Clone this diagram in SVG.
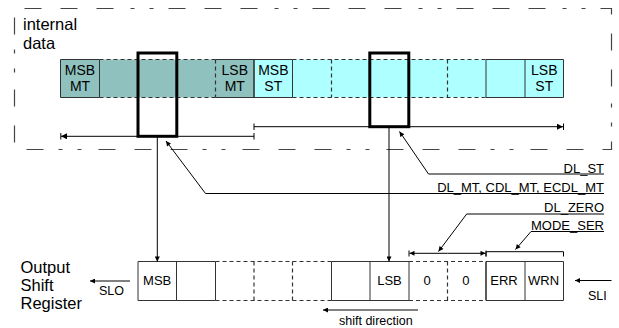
<svg xmlns="http://www.w3.org/2000/svg" width="619" height="328" viewBox="0 0 619 328">
<style>
text{font-family:"Liberation Sans",Arial,sans-serif;fill:#000}
.big{font-size:16.5px}
.cell{font-size:14px;text-anchor:middle}
.reg{font-size:13px;text-anchor:middle}
.lbl{font-size:13px;text-anchor:end}
.sm{font-size:12.5px}
.ln{stroke:#000;stroke-width:1;fill:none}
.bd{stroke:#333;stroke-width:1;fill:none}
.dsh{stroke:#333;stroke-width:1.2;fill:none;stroke-dasharray:4,3}
.thick{stroke:#000;stroke-width:3;fill:none}
</style>
<defs>
<marker id="ah" viewBox="0 0 10 10" refX="10" refY="5" markerWidth="7" markerHeight="5" markerUnits="userSpaceOnUse" orient="auto"><path d="M0,0 L10,5 L0,10 z" fill="#000"/></marker>
<marker id="ahb" viewBox="0 0 10 10" refX="10" refY="5" markerWidth="10" markerHeight="6" markerUnits="userSpaceOnUse" orient="auto"><path d="M0,0 L10,5 L0,10 z" fill="#000"/></marker>
</defs>

<g id="boundary">
<rect x="14.5" y="8.5" width="597" height="141" fill="none" stroke="#444" stroke-width="1.2" stroke-dasharray="17,19,17,19,17,17,4,15,4,15" stroke-dashoffset="-10"/>
<text class="big" x="23" y="29.5">internal</text>
<text class="big" x="23" y="48.5">data</text>
</g>

<g id="internal-data">
<rect x="60.5" y="59.5" width="193.5" height="38" fill="#8fc2bf"/>
<rect x="254" y="59.5" width="309.5" height="38" fill="#aeffff"/>
<path class="bd" d="M60.5,59.5H99.5M60.5,97.5H99.5M215.5,59.5H292.5M215.5,97.5H292.5M486,59.5H563.5M486,97.5H563.5"/>
<path class="dsh" d="M99.5,59.5H215.5M99.5,97.5H215.5M292.5,59.5H486M292.5,97.5H486"/>
<path class="bd" d="M60.5,59.5V97.5M99.5,59.5V97.5M292.5,59.5V97.5M486,59.5V97.5M525,59.5V97.5M563.5,59.5V97.5"/>
<path stroke="#333" stroke-width="1.6" d="M254,59.5V97.5"/>
<path class="dsh" d="M215.5,59.5V97.5M331.5,59.5V97.5M447.5,59.5V97.5"/>
<text class="cell" x="80" y="75">MSB</text>
<text class="cell" x="80" y="91">MT</text>
<text class="cell" x="234.8" y="75">LSB</text>
<text class="cell" x="234.8" y="91">MT</text>
<text class="cell" x="273.3" y="75">MSB</text>
<text class="cell" x="273.3" y="91">ST</text>
<text class="cell" x="544.3" y="75">LSB</text>
<text class="cell" x="544.3" y="91">ST</text>
</g>

<g id="window-mt">
<rect class="thick" x="138" y="53" width="38.8" height="83.3"/>
</g>
<g id="window-st">
<rect class="thick" x="369.8" y="53" width="39" height="73.7"/>
</g>

<g id="register">
<path class="bd" d="M138,261.5H215.5M138,300.5H215.5M331.5,261.5H409M331.5,300.5H409M486,261.5H563.5M486,300.5H563.5"/>
<path class="dsh" d="M215.5,261.5H331.5M215.5,300.5H331.5M409,261.5H486M409,300.5H486"/>
<path class="bd" d="M138,261.5V300.5M176.5,261.5V300.5M215.5,261.5V300.5M331.5,261.5V300.5M370,261.5V300.5M409,261.5V300.5M525,261.5V300.5M563.5,261.5V300.5"/>
<path stroke="#333" stroke-width="1.6" d="M486,261.5V300.5"/>
<path class="dsh" d="M254,261.5V300.5M292.5,261.5V300.5M447.5,261.5V300.5"/>
<text class="reg" x="157.2" y="284.5">MSB</text>
<text class="reg" x="389.5" y="284.5">LSB</text>
<text class="reg" x="427" y="284.5">0</text>
<text class="reg" x="465.8" y="284.5">0</text>
<text class="reg" x="504" y="284.5">ERR</text>
<text class="reg" x="543.5" y="284.5">WRN</text>
<text class="big" x="20.5" y="272.5">Output</text>
<text class="big" x="20.5" y="290.5">Shift</text>
<text class="big" x="20.5" y="308.5">Register</text>
<text class="sm" x="99" y="294.5">SLO</text>
<text class="sm" x="588" y="299.5">SLI</text>
<text class="sm" x="339" y="324.5">shift direction</text>
</g>

<g id="labels">
<text class="lbl" x="604" y="172.5">DL_ST</text>
<text class="lbl" x="604" y="191.5">DL_MT, CDL_MT, ECDL_MT</text>
<text class="lbl" x="604" y="212">DL_ZERO</text>
<text class="lbl" x="604" y="230">MODE_SER</text>
</g>

<g id="connectors">
<path class="ln" d="M254,136.3H61" marker-end="url(#ahb)"/>
<path class="ln" d="M60.8,133V139.5M254,133V139.5"/>
<path class="ln" d="M254,126.7H563" marker-end="url(#ahb)"/>
<path class="ln" d="M254,123.5V130M563.5,123.5V130"/>
<path class="ln" d="M157.3,136.3V261.5" marker-end="url(#ah)"/>
<path class="ln" d="M389,126.7V261.5" marker-end="url(#ah)"/>
<path class="ln" d="M604,174H428.5L399.5,131.5" marker-end="url(#ah)"/>
<path class="ln" d="M604,193.5H205.5L166,141" marker-end="url(#ah)"/>
<path class="ln" d="M604,214H466.7L438.5,251.5" marker-end="url(#ah)"/>
<path class="ln" d="M604,231.5H531L515.5,249.5" marker-end="url(#ah)"/>
<path class="ln" d="M447.5,253.3H409.5" marker-end="url(#ah)"/>
<path class="ln" d="M447.5,253.3H485.5" marker-end="url(#ah)"/>
<path class="ln" d="M409,250.5V256.5M486,250.5V256.5"/>
<path class="ln" d="M486,256.5V251.7H563.5V256.5"/>
<path class="ln" d="M130,281H90" marker-end="url(#ah)"/>
<path class="ln" d="M611.5,280.5H575" marker-end="url(#ah)"/>
<path class="ln" d="M418,310H323" marker-end="url(#ah)"/>
</g>
</svg>
